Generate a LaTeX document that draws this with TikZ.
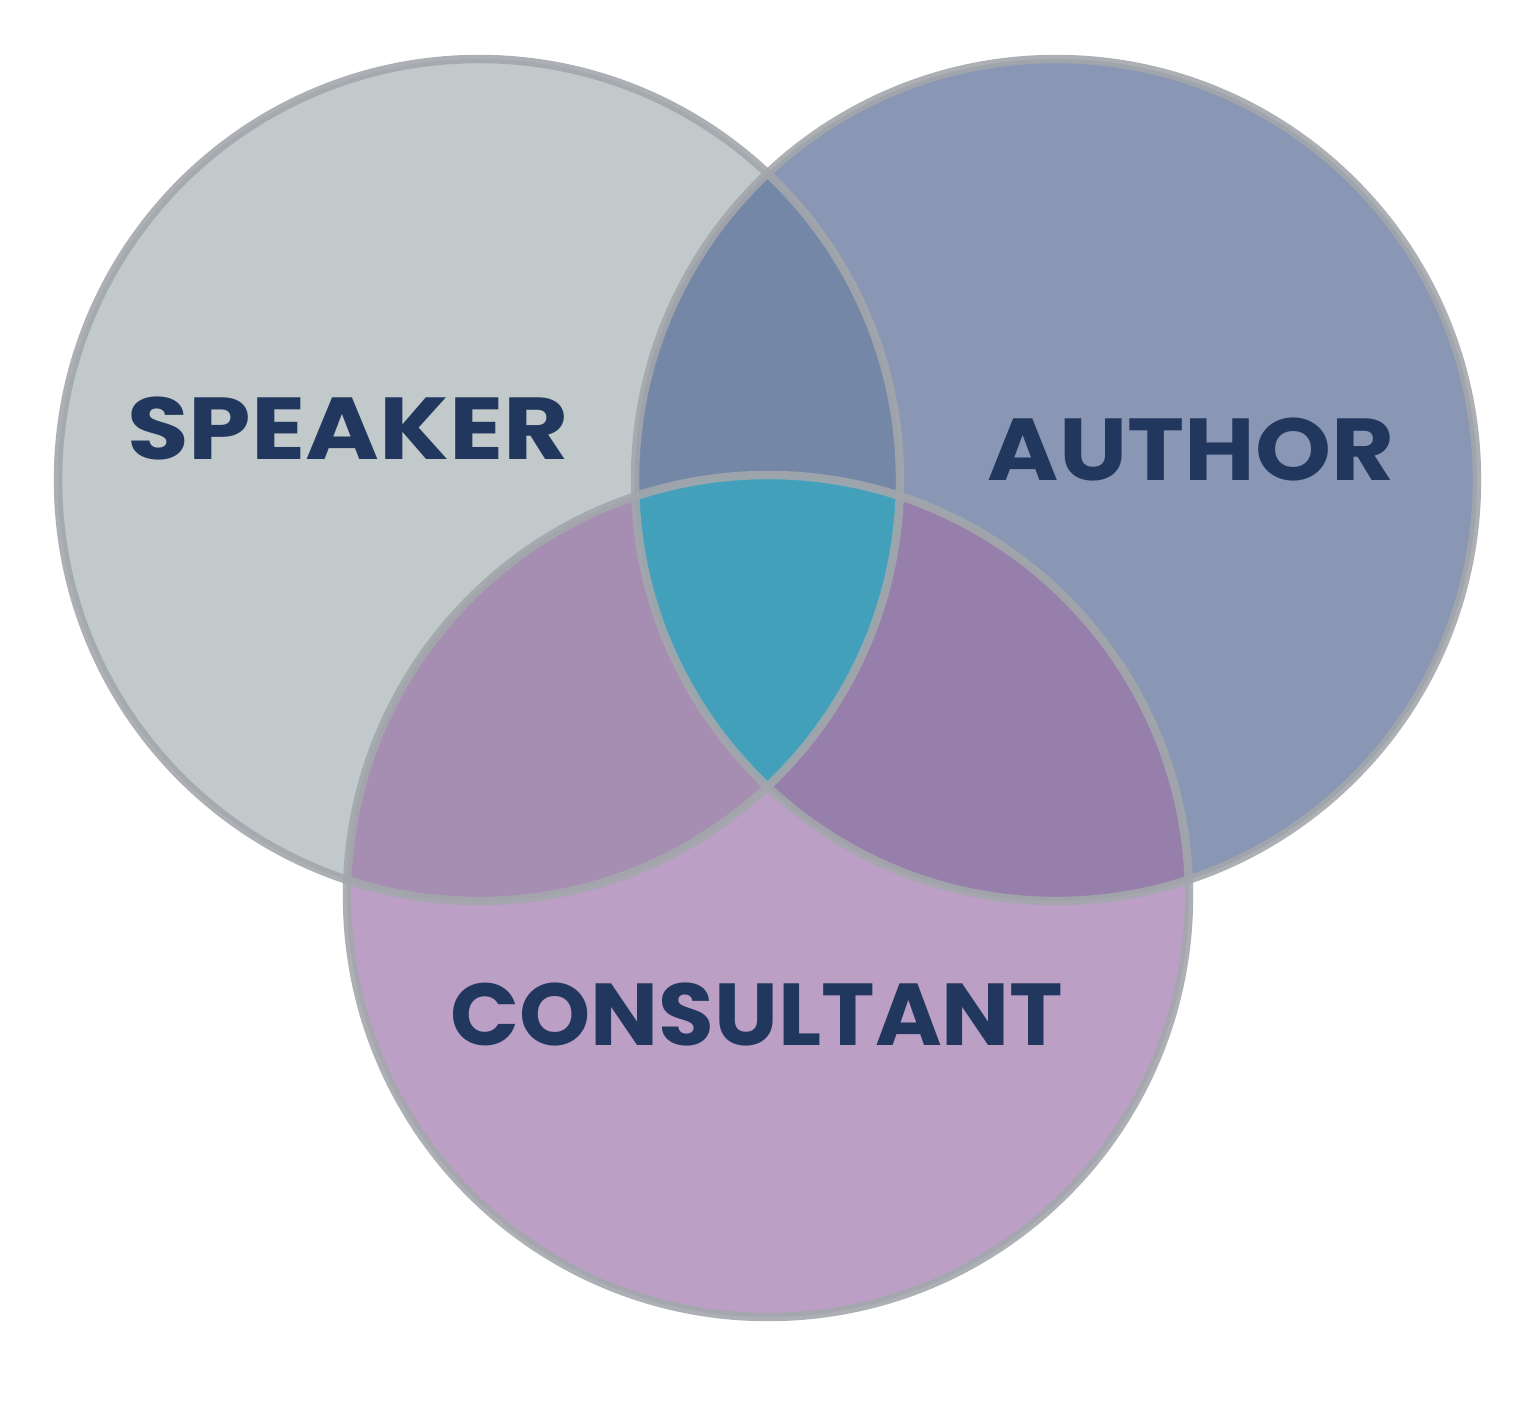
\documentclass[tikz,border=0pt]{standalone}
\usepackage{fontspec}
\setmainfont{Poppins}
\definecolor{spk}{HTML}{C1C9CB}
\definecolor{aut}{HTML}{8996B4}
\definecolor{con}{HTML}{BC9FC5}
\definecolor{sa}{HTML}{7587A6}
\definecolor{sc}{HTML}{A68DB2}
\definecolor{ac}{HTML}{967FAB}
\definecolor{all}{HTML}{43A0BB}
\definecolor{rim}{HTML}{A3A7AC}
\definecolor{ink}{HTML}{22375D}
\tikzset{
  rimline/.style={draw=rim, draw opacity=0.9, line width=2.4pt},
  lab/.style={text=ink, font=\fontsize{25}{30}\selectfont\bfseries, anchor=base, inner sep=0pt}
}
\begin{document}
\begin{tikzpicture}[x=0.01cm,y=-0.01cm]
\useasboundingbox[fill=white] (0,0) rectangle (1534,1400);
\def\R{421}
\coordinate (cs) at (479,480);
\coordinate (ca) at (1056,480);
\coordinate (cc) at (768,896);
\fill[spk] (cs) circle[radius=\R];
\fill[aut] (ca) circle[radius=\R];
\fill[con] (cc) circle[radius=\R];
\begin{scope}
  \clip (cs) circle[radius=\R];
  \fill[sa] (ca) circle[radius=\R];
  \fill[sc] (cc) circle[radius=\R];
\end{scope}
\begin{scope}
  \clip (ca) circle[radius=\R];
  \fill[ac] (cc) circle[radius=\R];
  \clip (cs) circle[radius=\R];
  \fill[all] (cc) circle[radius=\R];
\end{scope}
\draw[rimline] (cs) circle[radius=\R];
\draw[rimline] (ca) circle[radius=\R];
\draw[rimline] (cc) circle[radius=\R];
\node[lab, xscale=1.14] (speaker) at (348,459) {SPEAKER};
\node[lab, xscale=1.10] (author) at (1191,480) {AUTHOR};
\node[lab, xscale=1.03] (consultant) at (757,1045) {CONSULTANT};
\end{tikzpicture}
\end{document}
